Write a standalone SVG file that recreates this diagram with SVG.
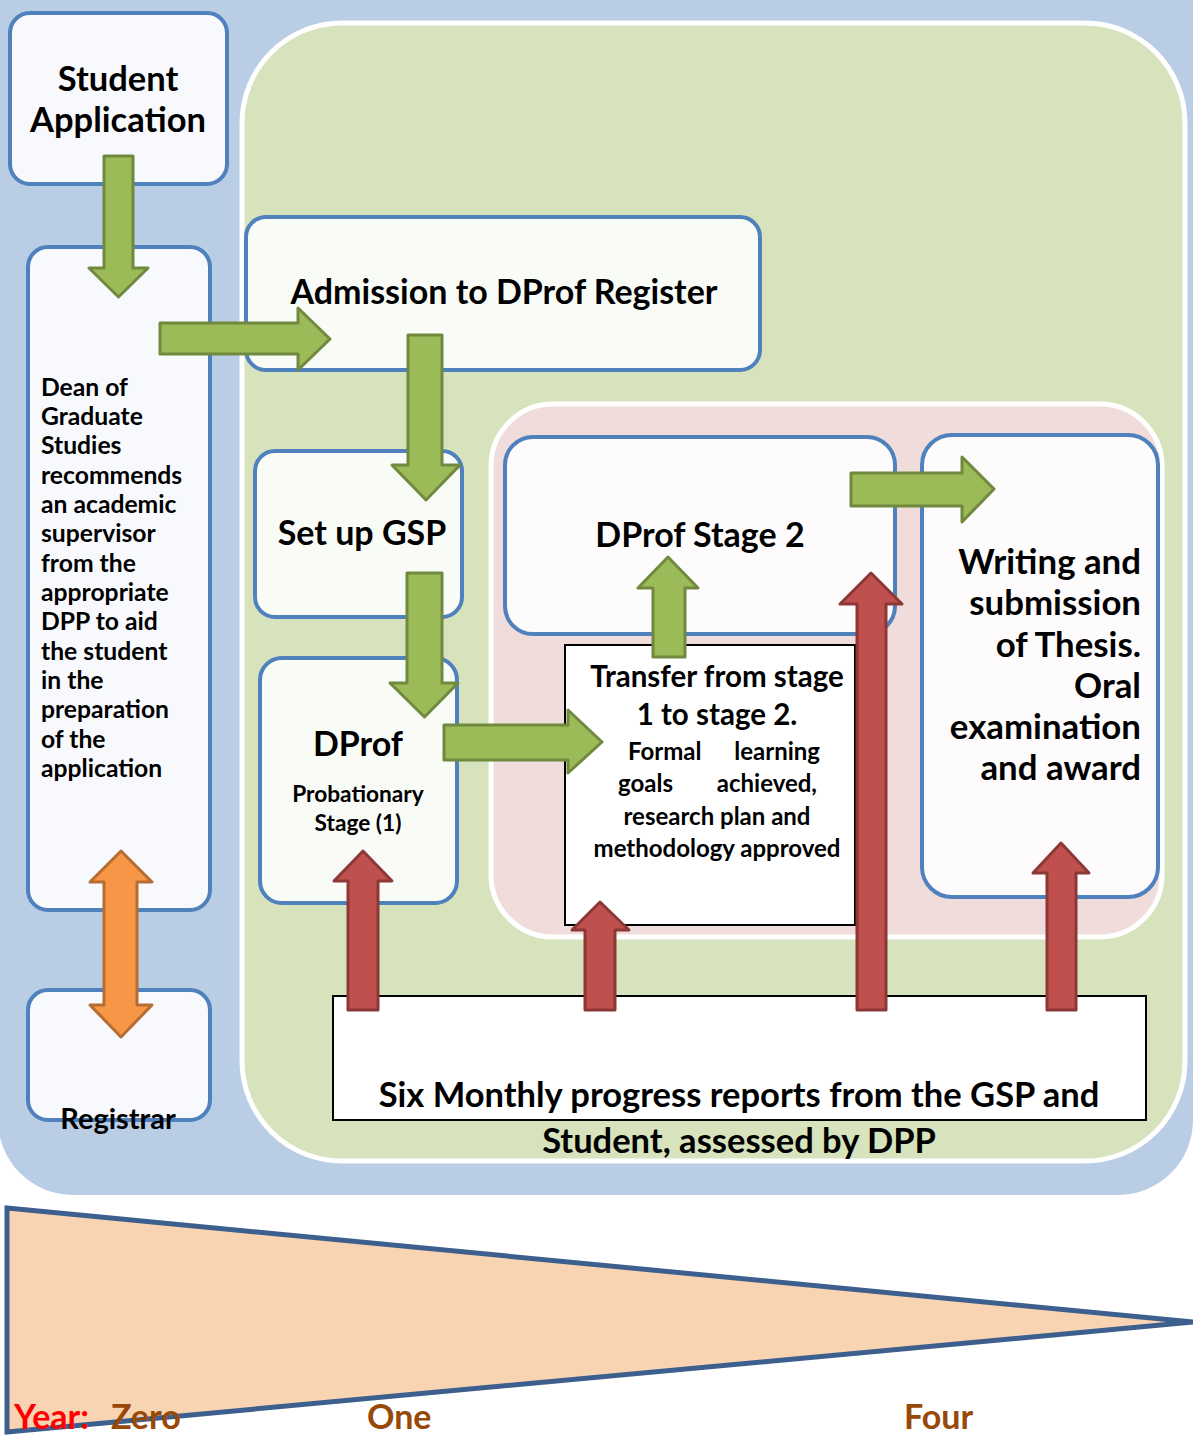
<svg xmlns="http://www.w3.org/2000/svg" width="1193" height="1440" viewBox="0 0 1193 1440">
<style>
  .t { font-family: Lato, "Liberation Sans", sans-serif; font-weight: bold; fill: #000; }
  .node { fill: #f8f9fc; stroke: #4f81bd; stroke-width: 4; }
  .nodeg { fill: #f9fbf6; stroke: #4f81bd; stroke-width: 4; }
  .nodep { fill: #fdfbfc; stroke: #4f81bd; stroke-width: 4; }
  .plain { fill: #ffffff; stroke: #000; stroke-width: 2; }
  .ga { fill: #9bbb59; stroke: #71893f; stroke-width: 3; stroke-linejoin: round; }
  .ra { fill: #c0504d; stroke: #8c3836; stroke-width: 3; stroke-linejoin: round; }
  .oa { fill: #f79646; stroke: #b66d31; stroke-width: 3; stroke-linejoin: round; }
  .yr { font-family: Lato, "Liberation Sans", sans-serif; font-weight: bold; font-size: 34px; fill: #984807; }
</style>
<rect width="1193" height="1440" fill="#ffffff"/>
<g id="background">
  <rect x="-2" y="-80" width="1195" height="1275" rx="75" fill="#b9cde4"/>
  <rect x="242" y="23" width="943" height="1138" rx="100" fill="#d7e3bc" stroke="#ffffff" stroke-width="5"/>
  <rect x="491" y="404" width="671" height="533" rx="62" fill="#f0dcdb" stroke="#ffffff" stroke-width="5"/>
</g>
<g id="student-application">
  <rect class="node" x="10" y="13" width="217" height="171" rx="20"/>
  <text class="t" font-size="34.5" text-anchor="middle" x="118" y="91">Student</text>
  <text class="t" font-size="34.5" text-anchor="middle" x="118" y="132">Application</text>
</g>
<g id="dean">
  <rect class="node" x="28" y="247" width="182" height="663" rx="20"/>
  <text class="t" font-size="24.7" x="41" y="396">Dean of</text>
  <text class="t" font-size="24.7" x="41" y="425">Graduate</text>
  <text class="t" font-size="24.7" x="41" y="454">Studies</text>
  <text class="t" font-size="24.7" x="41" y="484">recommends</text>
  <text class="t" font-size="24.7" x="41" y="513">an academic</text>
  <text class="t" font-size="24.7" x="41" y="542">supervisor</text>
  <text class="t" font-size="24.7" x="41" y="572">from the</text>
  <text class="t" font-size="24.7" x="41" y="601">appropriate</text>
  <text class="t" font-size="24.7" x="41" y="630">DPP to aid</text>
  <text class="t" font-size="24.7" x="41" y="660">the student</text>
  <text class="t" font-size="24.7" x="41" y="689">in the</text>
  <text class="t" font-size="24.7" x="41" y="718">preparation</text>
  <text class="t" font-size="24.7" x="41" y="748">of the</text>
  <text class="t" font-size="24.7" x="41" y="777">application</text>
</g>
<g id="registrar">
  <rect class="node" x="28" y="990" width="182" height="130" rx="20"/>
  <text class="t" font-size="29" text-anchor="middle" x="118" y="1129">Registrar</text>
</g>
<g id="admission">
  <rect class="nodeg" x="246" y="217" width="514" height="153" rx="20"/>
  <text class="t" font-size="34" text-anchor="middle" x="504" y="304">Admission to DProf Register</text>
</g>
<g id="setup-gsp">
  <rect class="nodeg" x="255" y="451" width="207" height="166" rx="20"/>
  <text class="t" font-size="34" text-anchor="middle" x="362" y="545">Set up GSP</text>
</g>
<g id="dprof-stage1">
  <rect class="nodeg" x="260" y="658" width="197" height="245" rx="22"/>
  <text class="t" font-size="34" text-anchor="middle" x="358" y="756">DProf</text>
  <text class="t" font-size="22.7" text-anchor="middle" x="358" y="802">Probationary</text>
  <text class="t" font-size="22.7" text-anchor="middle" x="358" y="831">Stage (1)</text>
</g>
<g id="dprof-stage2">
  <rect class="nodep" x="505" y="437" width="390" height="197" rx="28"/>
  <text class="t" font-size="34" text-anchor="middle" x="700" y="547">DProf Stage 2</text>
</g>
<g id="transfer">
  <rect class="plain" x="565" y="645" width="290" height="280"/>
  <text class="t" font-size="29.5" text-anchor="middle" x="717" y="687">Transfer from stage</text>
  <text class="t" font-size="29.5" text-anchor="middle" x="717" y="725">1 to stage 2.</text>
  <text class="t" font-size="24" x="628" y="760">Formal</text>
  <text class="t" font-size="24" text-anchor="end" x="820" y="760">learning</text>
  <text class="t" font-size="24" x="618" y="792">goals</text>
  <text class="t" font-size="24" text-anchor="end" x="817" y="792">achieved,</text>
  <text class="t" font-size="24" text-anchor="middle" x="717" y="825">research plan and</text>
  <text class="t" font-size="24" text-anchor="middle" x="717" y="857">methodology approved</text>
</g>
<g id="writing">
  <rect class="nodep" x="922" y="435" width="236" height="462" rx="30"/>
  <text class="t" font-size="34.8" text-anchor="end" x="1141" y="574">Writing and</text>
  <text class="t" font-size="34.8" text-anchor="end" x="1141" y="615">submission</text>
  <text class="t" font-size="34.8" text-anchor="end" x="1141" y="657">of Thesis.</text>
  <text class="t" font-size="34.8" text-anchor="end" x="1141" y="698">Oral</text>
  <text class="t" font-size="34.8" text-anchor="end" x="1141" y="739">examination</text>
  <text class="t" font-size="34.8" text-anchor="end" x="1141" y="780">and award</text>
</g>
<g id="progress-reports">
  <rect class="plain" x="333" y="996" width="813" height="124"/>
  <text class="t" font-size="34.5" text-anchor="middle" x="739" y="1107">Six Monthly progress reports from the GSP and</text>
  <text class="t" font-size="34.5" text-anchor="middle" x="739" y="1153">Student, assessed by DPP</text>
</g>
<g id="connectors">
  <path class="ga" d="M104 156 L133 156 L133 268 L148 268 L118.5 297 L89 268 L104 268 Z"/>
  <path class="ga" d="M160 323 L298 323 L298 308 L330 339 L298 370 L298 354 L160 354 Z"/>
  <path class="ga" d="M408 335 L442 335 L442 465 L460 465 L426 500 L392 465 L408 465 Z"/>
  <path class="ga" d="M407 573 L442 573 L442 683 L458 683 L424.5 717 L390 683 L407 683 Z"/>
  <path class="ga" d="M444 725 L568 725 L568 710 L602 742 L568 773 L568 760 L444 760 Z"/>
  <path class="ga" d="M653 657 L653 588 L638 588 L668 557 L698 588 L685 588 L685 657 Z"/>
  <path class="ga" d="M851 473 L962 473 L962 457 L994 489 L962 522 L962 506 L851 506 Z"/>
  <path class="oa" d="M121 851 L152 882 L137 882 L137 1005 L152 1005 L121 1037 L90 1005 L104 1005 L104 882 L90 882 Z"/>
  <path class="ra" d="M348 1010 L348 881 L334 881 L363 851 L392 881 L378 881 L378 1010 Z"/>
  <path class="ra" d="M585 1010 L585 930 L572 930 L600 902 L629 930 L615 930 L615 1010 Z"/>
  <path class="ra" d="M857 1010 L857 604 L840 604 L871 573 L902 604 L886 604 L886 1010 Z"/>
  <path class="ra" d="M1047 1010 L1047 873 L1033 873 L1061 843 L1089 873 L1076 873 L1076 1010 Z"/>
</g>
<g id="timeline">
  <polygon points="7,1208 1193,1322 7,1432" fill="#f9d4b3" stroke="#3c5f8e" stroke-width="5" stroke-linejoin="miter"/>
  <text class="yr" x="14" y="1429" style="fill:#ff0000">Year:</text>
  <text class="yr" x="111" y="1429">Zero</text>
  <text class="yr" x="367" y="1429">One</text>
  <text class="yr" x="904" y="1429">Four</text>
</g>
</svg>
